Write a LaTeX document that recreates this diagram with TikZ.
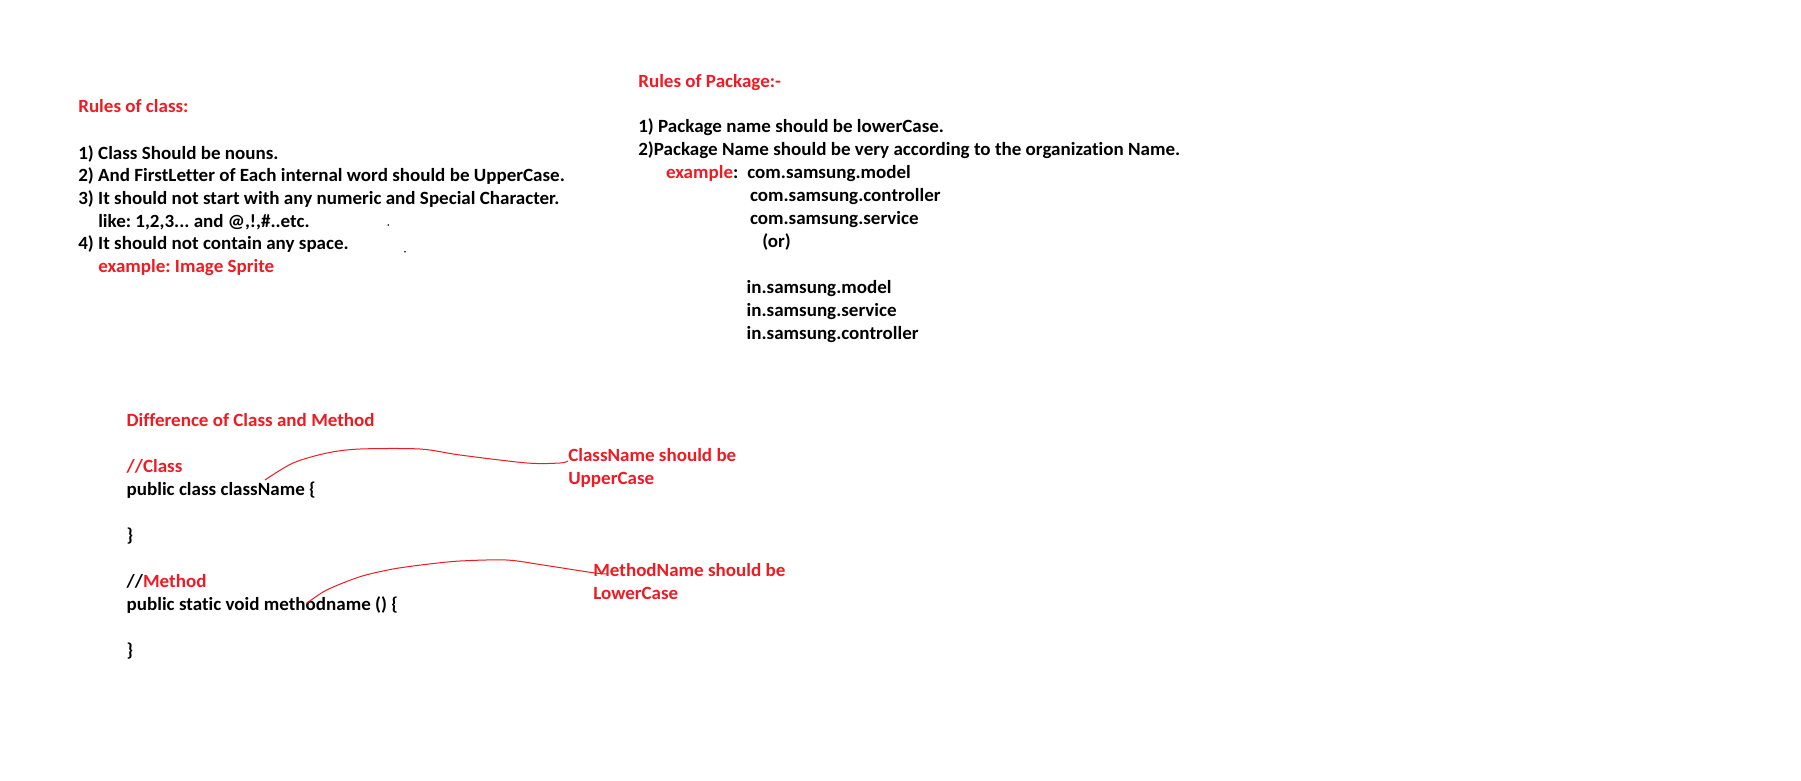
\documentclass[tikz,border=0pt]{standalone}
\usepackage{fontspec}
\setmainfont{Carlito}[Ligatures=NoCommon,FakeStretch=1.02]
\definecolor{pred}{HTML}{ED1C24}
\begin{document}
\frenchspacing
\begin{tikzpicture}[x=1pt,y=-1pt,
  txt/.style={anchor=base west,inner sep=0pt,outer sep=0pt,font=\fontsize{18.67pt}{22.67pt}\selectfont\bfseries\frenchspacing,text=black},
  rtxt/.style={txt,text=pred},
  note/.style={draw=pred,line width=1pt}]
\path[use as bounding box,fill=white] (0,0) rectangle (1801,780);
% Rules of class
\node[rtxt] (rc) at (78.3,112.7) {Rules of class:};
\node[txt] (rc1) at (78.3,159) {1) Class Should be nouns.};
\node[txt] (rc2) at (78.3,181.7) {2) And FirstLetter of Each internal word should be UpperCase.};
\node[txt] (rc3) at (78.3,204.3) {3) It should not start with any numeric and Special Character.};
\node[txt] (rc3b) at (98.3,227) {like: 1,2,3... and @,!,\#..etc.};
\node[txt] (rc4) at (78.3,249.7) {4) It should not contain any space.};
\node[rtxt] (rc5) at (98.3,272.3) {example: Image Sprite};
\fill (388.3,225) circle (0.9);
\fill (405,251.7) circle (0.9);
% Rules of Package
\node[rtxt] (rp) at (638.3,87.3) {Rules of Package:-};
\node[txt] (rp1) at (638.3,132.7) {1) Package name should be lowerCase.};
\node[txt] (rp2) at (638.3,155.7) {2)Package Name should be very according to the organization Name.};
\node[txt] (rp3) at (666,178.3) {\textcolor{pred}{example}:};
\node[txt] (p1) at (747.3,178.3) {com.samsung.model};
\node[txt] (p2) at (750,201.7) {com.samsung.controller};
\node[txt] (p3) at (750,224.3) {com.samsung.service};
\node[txt] (por) at (762.3,247.7) {(or)};
\node[txt] (p4) at (746.7,293.3) {in.samsung.model};
\node[txt] (p5) at (746.7,316) {in.samsung.service};
\node[txt] (p6) at (746.7,339) {in.samsung.controller};
% Difference
\node[rtxt] (dt) at (126.7,426.7) {Difference of Class and Method};
\node[rtxt] (cc) at (126.7,472.5) {//Class};
\node[txt] (cl) at (126.7,495.5) {public class className \{};
\node[txt] (cb) at (126.7,541.5) {\}};
\node[txt] (mc) at (126.7,587) {//\textcolor{pred}{Method}};
\node[txt] (ml) at (126.7,610) {public static void methodname () \{};
\node[txt] (mb) at (126.7,656) {\}};
\node[rtxt] (cn) at (568.3,461.7) {ClassName should be};
\node[rtxt] (cn2) at (568.3,484.3) {UpperCase};
\node[rtxt] (mn) at (593.3,576.7) {MethodName should be};
\node[rtxt] (mn2) at (593.3,599.3) {LowerCase};
\coordinate (cs) at (265,480);
\coordinate (ce) at (568,461);
\coordinate (ms) at (306.7,603.3);
\coordinate (me) at (608,574);
\draw[note] plot[smooth,tension=0.5] coordinates {(cs) (293,463) (327,453) (360,449) (420,449) (460,455) (527,463) (560,463) (ce)};
\draw[note] plot[smooth,tension=0.5] coordinates {(ms) (326.7,590) (360,576.7) (393,569) (426.7,564.3) (460,561) (506.7,560) (543,565) (593,572.7) (me)};
\end{tikzpicture}
\end{document}
